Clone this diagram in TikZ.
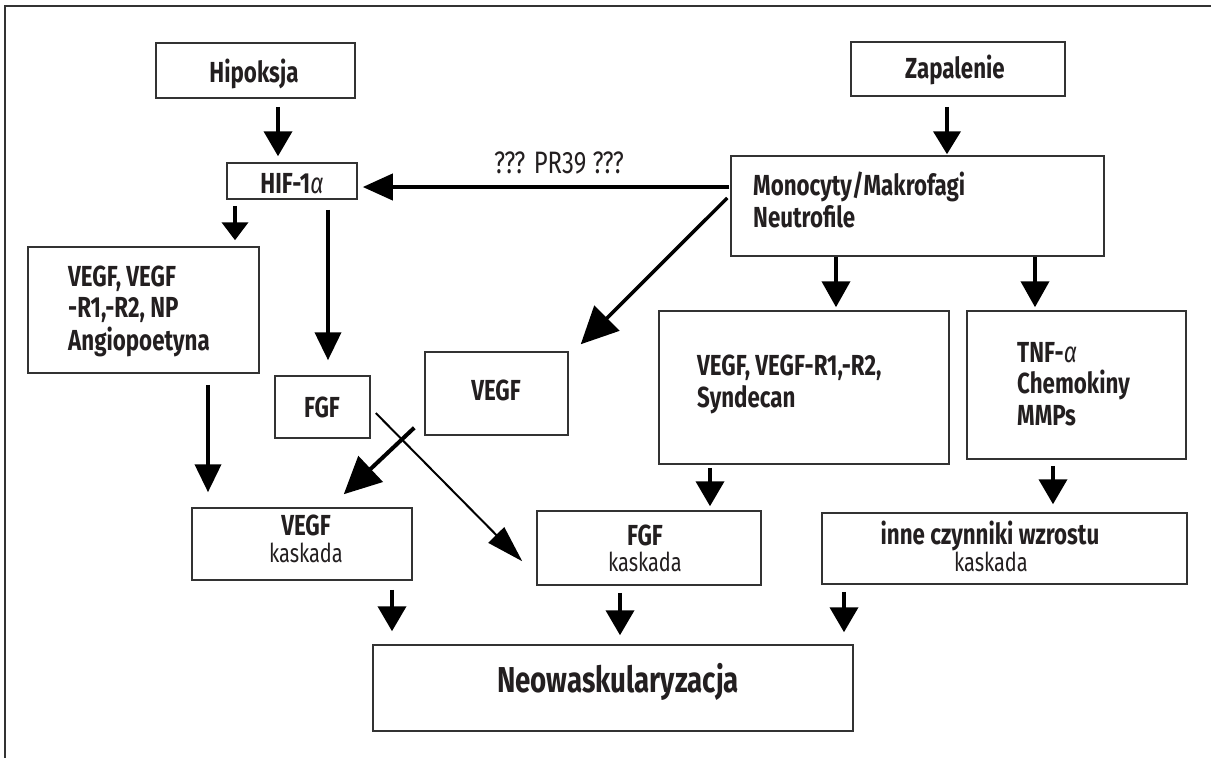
\documentclass[tikz,border=0pt]{standalone}
\usepackage{fontspec}
\setmainfont{Fira Sans}[FakeStretch=0.77]
\usetikzlibrary{arrows.meta,calc}
\definecolor{ink}{HTML}{231F20}
\definecolor{framegray}{HTML}{333333}
\begin{document}
\begin{tikzpicture}[x=1pt,y=-1pt,
  box/.style={draw=framegray,line width=1.5pt,inner sep=0pt,anchor=center},
  bt/.style={text=ink,inner sep=0pt,font=\bfseries\fontsize{29}{34}\selectfont},
  rt/.style={text=ink,inner sep=0pt,font=\fontsize{26}{30}\selectfont},
  arr/.style={draw=black,line width=4pt,-{Triangle[length=25pt,width=28pt]}},
  bigarr/.style={draw=black,line width=4pt,-{Triangle[length=37pt,width=35pt]}},
  thinarr/.style={draw=black,line width=2pt,-{Triangle[length=37pt,width=22pt]}}
]
\useasboundingbox (0,0) rectangle (1211,758);
% frame
\draw[framegray,line width=1.5pt] (5,758) -- (5,6) -- (1211,6);
% boxes
\node[box,minimum width=199pt,minimum height=55pt] (hip) at (255.5,70.5) {};
\node[box,minimum width=130pt,minimum height=36pt] (hif) at (292,181) {};
\node[box,minimum width=231pt,minimum height=126pt] (lbox) at (143.5,310) {};
\node[box,minimum width=95pt,minimum height=62pt] (fgf) at (322.5,407) {};
\node[box,minimum width=220pt,minimum height=72pt] (vk) at (302,544) {};
\node[box,minimum width=480pt,minimum height=86pt] (neo) at (613,688) {};
\node[box,minimum width=214pt,minimum height=54pt] (zap) at (958,69) {};
\node[box,minimum width=373pt,minimum height=100pt] (mono) at (917.5,206) {};
\node[box,minimum width=143pt,minimum height=83pt] (vegf) at (496.5,393.5) {};
\node[box,minimum width=290pt,minimum height=153pt] (vr) at (804,387.5) {};
\node[box,minimum width=219pt,minimum height=148pt] (tnf) at (1076.5,385) {};
\node[box,minimum width=224pt,minimum height=74pt] (fk) at (649,548) {};
\node[box,minimum width=365pt,minimum height=71pt] (inne) at (1004.5,548.5) {};
% texts
\node[bt,anchor=base] (thip) at (254,82) {Hipoksja};
\node[bt,anchor=base] (thif) at (292,193) {HIF-1{\mdseries\itshape α}};
\node[bt,anchor=base west] (tl1) at (68,286) {VEGF, VEGF};
\node[bt,anchor=base west] (tl2) at (68,317) {-R1,-R2, NP};
\node[bt,anchor=base west] (tl3) at (68,350) {Angiopoetyna};
\node[bt,anchor=base] (tfgf) at (322,417) {FGF};
\node[bt,anchor=base] (tvegf) at (496,400) {VEGF};
\node[bt,anchor=base] (tvk1) at (306,535) {VEGF};
\node[rt,anchor=base] (tvk2) at (306,562) {kaskada};
\node[bt,anchor=base] (tfk1) at (645,545) {FGF};
\node[rt,anchor=base] (tfk2) at (645,571) {kaskada};
\node[bt,anchor=base] (tin1) at (990,544) {inne czynniki wzrostu};
\node[rt,anchor=base] (tin2) at (991,571) {kaskada};
\node[bt,anchor=base,font=\bfseries\fontsize{36}{42}\selectfont] (tneo) at (618,692) {Neowaskularyzacja};
\node[bt,anchor=base] (tzap) at (955,78) {Zapalenie};
\node[bt,anchor=base west] (tm1) at (753,195) {Monocyty/Makrofagi};
\node[bt,anchor=base west] (tm2) at (753,227) {Neutrofile};
\node[bt,anchor=base west] (tvr1) at (697,375) {VEGF, VEGF-R1,-R2,};
\node[bt,anchor=base west] (tvr2) at (697,407) {Syndecan};
\node[bt,anchor=base west] (tt1) at (1017,362) {TNF-{\mdseries\itshape α}};
\node[bt,anchor=base west] (tt2) at (1017,393) {Chemokiny};
\node[bt,anchor=base west] (tt3) at (1017,425) {MMPs};
\node[rt,anchor=base,font=\fontsize{31}{35}\selectfont] (tpr) at (559,173) {??? PR39 ???};
% connectors
\draw[arr] ($(hip.south)+(22.5,8)$) -- ($(hif.north)+(-14,-6)$);
\draw[draw=black,line width=4pt,-{Triangle[length=18pt,width=26pt]}] ($(hif.south)+(-57,6)$) -- ($(lbox.north)+(91.5,-6)$);
\draw[arr,-{Triangle[length=28pt,width=26pt]}] ($(hif.south)+(36,10)$) -- ($(fgf.north)+(5.5,-15)$);
\draw[arr,-{Triangle[length=28pt,width=26pt]}] ($(lbox.south)+(64.5,11)$) -- ($(vk.north)+(-94,-15)$);
\draw[arr] ($(vk.south)+(90,9)$) -- ($(neo.north)+(-221,-13)$);
\draw[arr,-{Triangle[length=30pt,width=26pt]}] ($(mono.west)+(-1,-19)$) -- ($(hif.east)+(5,6)$);
\draw[bigarr,line width=3.5pt] ($(mono.west)+(-3,-8)$) -- ($(vegf.north east)+(12,-7)$);
\draw[arr,-{Triangle[length=23pt,width=27pt]}] ($(zap.south)+(-11,10)$) -- ($(mono.north)+(29.5,-1)$);
\draw[arr,-{Triangle[length=26pt,width=28pt]}] ($(mono.south)+(-81.5,0)$) -- ($(vr.north)+(32,-3)$);
\draw[arr,-{Triangle[length=26pt,width=28pt]}] ($(mono.south)+(117.5,0)$) -- ($(tnf.north)+(-41.5,-3)$);
\draw[arr] ($(vr.south)+(-94,3)$) -- ($(fk.north)+(61,-4)$);
\draw[arr] ($(tnf.south)+(-23.5,6)$) -- ($(inne.north)+(48.5,-8)$);
\draw[arr] ($(fk.south)+(-29,7)$) -- ($(neo.north)+(7,-9)$);
\draw[arr] ($(inne.south)+(-160.5,7)$) -- ($(neo.north)+(231,-12)$);
\draw[bigarr] ($(vegf.south west)+(-10,-8)$) -- ($(vk.north east)+(-69,-13)$);
\draw[thinarr] ($(fgf.east)+(5,6)$) -- ($(fk.north west)+(-14,51)$);
\end{tikzpicture}
\end{document}
